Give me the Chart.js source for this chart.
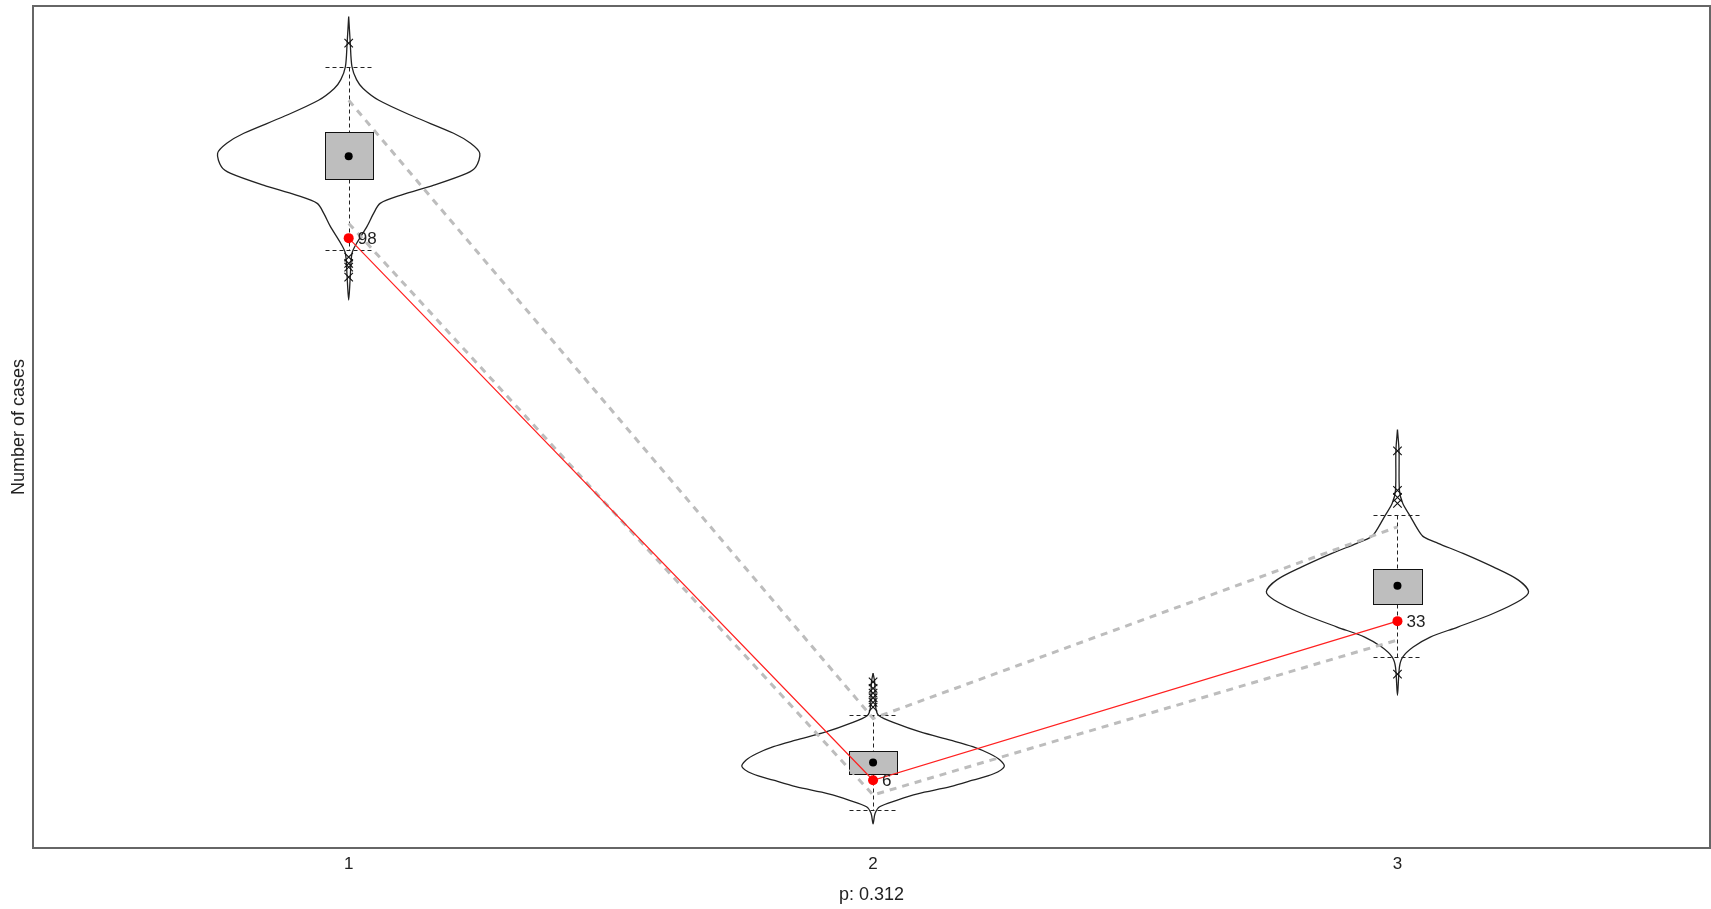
<!DOCTYPE html>
<html>
<head>
<meta charset="utf-8">
<script src="https://cdn.jsdelivr.net/npm/chart.js@4.4.1/dist/chart.umd.min.js"></script>
<style>
    html, body { margin: 0; padding: 0; background: #fff; overflow: hidden; }
    canvas { display: block; }
</style>
</head>
<body>
<canvas id="violinChart" width="1711" height="909"></canvas>
<script>
// groups on the x axis
var groups = [1, 2, 3];

// observed value per group (red line + labels)
var observed = [98, 6, 33];

// gray dashed band (upper / lower)
var bandUpper = [121.4, 16.5, 49.0];
var bandLower = [100.5, 3.5, 29.8];

// box plot stats
var whiskerLow = [96.0, 1.0, 26.9];
var quart1 = [108.0, 7.0, 35.9];
var medians = [111.9, 9.0, 39.0];
var quart3 = [116.0, 11.0, 41.9];
var whiskerHigh = [127.1, 17.0, 51.0];

// outliers
var outlierGroup = [1, 1, 1, 1, 1, 2, 2, 2, 2, 2, 2, 3, 3, 3, 3, 3];
var outlierValue = [131.1, 94.8, 93.7, 93.1, 91.4, 18.4, 19.2, 20.0, 20.8, 21.6, 22.7, 61.9, 55.2, 54.0, 53.0, 24.0];

// violin density profiles: levels (top to bottom) and relative half width
var violin1Levels = [135.6, 131.1, 127.1, 124.9, 123.4, 121.4, 118.6, 115.8, 114.1, 112.4, 110.1, 109.0, 107.0, 105.3, 103.9, 102.2, 100.0, 97.1, 95.4, 91.4, 87.5];
var violin1Width = [0, 0.012, 0.025, 0.06, 0.11, 0.23, 0.5, 0.8, 0.93, 1.0, 0.97, 0.9, 0.65, 0.4, 0.24, 0.19, 0.14, 0.06, 0.025, 0.012, 0];
var violin2Levels = [24.2, 22.7, 18.4, 17.0, 15.6, 14.2, 12.8, 11.7, 10.5, 9.4, 8.3, 7.1, 6.0, 4.9, 3.7, 2.6, 1.5, 0.35, -1.4];
var violin2Width = [0, 0.012, 0.02, 0.043, 0.18, 0.36, 0.59, 0.76, 0.89, 0.97, 1.0, 0.92, 0.76, 0.59, 0.34, 0.18, 0.05, 0.015, 0];
var violin3Levels = [65.5, 61.9, 55.2, 53.0, 50.7, 48.4, 47.3, 46.2, 44.5, 42.2, 40.0, 38.0, 36.6, 34.3, 32.0, 30.3, 28.6, 26.9, 25.2, 20.4];
var violin3Width = [0, 0.012, 0.015, 0.04, 0.1, 0.16, 0.2, 0.31, 0.5, 0.73, 0.92, 1.0, 0.94, 0.73, 0.46, 0.25, 0.12, 0.04, 0.015, 0];

var xTitle = 'p: 0.312';
var yTitle = 'Number of cases';

// sizes in x units
var VIOLIN_HALF = 0.25;
var BOX_HALF = 0.046;

Chart.defaults.font.family = "'Liberation Sans', Arial, sans-serif";
Chart.defaults.color = '#222';

function violinPoints(center, levels, widths) {
    var pts = [];
    for (var i = 0; i < levels.length; i++) {
        pts.push({x: center + widths[i] * VIOLIN_HALF, y: levels[i]});
    }
    for (var j = levels.length - 2; j >= 0; j--) {
        pts.push({x: center - widths[j] * VIOLIN_HALF, y: levels[j]});
    }
    return pts;
}

function zip(xs, ys) {
    return xs.map((x, i) => ({x: x, y: ys[i]}));
}

var violinSet = [
    [violin1Levels, violin1Width],
    [violin2Levels, violin2Width],
    [violin3Levels, violin3Width]
];

var datasets = [];

violinSet.forEach((v, i) => {
    datasets.push({
        data: violinPoints(groups[i], v[0], v[1]),
        showLine: true,
        tension: 0.3,
        borderColor: '#222',
        borderWidth: 1.3,
        pointRadius: 0,
        fill: false,
        order: 6
    });
});

[bandUpper, bandLower].forEach(band => {
    datasets.push({
        data: zip(groups, band),
        showLine: true,
        borderColor: '#bdbdbd',
        borderWidth: 3,
        borderDash: [7, 6],
        pointRadius: 0,
        order: 5
    });
});

datasets.push({
    data: zip(groups, observed),
    showLine: true,
    borderColor: '#ff2020',
    borderWidth: 1.2,
    pointRadius: 5,
    pointBackgroundColor: '#ff0000',
    pointBorderWidth: 0,
    order: 2
});

datasets.push({
    data: zip(outlierGroup, outlierValue),
    pointStyle: 'crossRot',
    pointRadius: 6,
    borderColor: '#111',
    pointBorderWidth: 1.1,
    order: 3
});

datasets.push({
    data: zip(groups, medians),
    pointRadius: 4,
    pointBackgroundColor: '#000',
    pointBorderWidth: 0,
    order: 1
});

var boxPlugin = {
    id: 'boxes',
    beforeDatasetsDraw: chart => {
        let ctx = chart.ctx;
        let x = chart.scales.x, y = chart.scales.y;
        ctx.save();
        groups.forEach((g, i) => {
            let cx = Math.round(x.getPixelForValue(g)) + 0.5;
            let left = Math.round(x.getPixelForValue(g - BOX_HALF)) + 0.5;
            let right = Math.round(x.getPixelForValue(g + BOX_HALF)) + 0.5;
            let yHi = Math.round(y.getPixelForValue(whiskerHigh[i])) + 0.5;
            let yLo = Math.round(y.getPixelForValue(whiskerLow[i])) + 0.5;
            let yQ3 = Math.round(y.getPixelForValue(quart3[i])) + 0.5;
            let yQ1 = Math.round(y.getPixelForValue(quart1[i])) + 0.5;

            // whiskers
            ctx.setLineDash([4, 3]);
            ctx.strokeStyle = '#222';
            ctx.lineWidth = 1;
            ctx.beginPath();
            ctx.moveTo(cx, yHi); ctx.lineTo(cx, yQ3);
            ctx.moveTo(cx, yQ1); ctx.lineTo(cx, yLo);
            ctx.moveTo(left, yHi); ctx.lineTo(right, yHi);
            ctx.moveTo(left, yLo); ctx.lineTo(right, yLo);
            ctx.stroke();

            // box
            ctx.setLineDash([]);
            ctx.fillStyle = '#bebebe';
            ctx.fillRect(left, yQ3, right - left, yQ1 - yQ3);
            ctx.strokeStyle = '#111';
            ctx.strokeRect(left, yQ3, right - left, yQ1 - yQ3);
        });
        ctx.restore();
    },
    afterDatasetsDraw: chart => {
        let ctx = chart.ctx;
        let x = chart.scales.x, y = chart.scales.y;
        ctx.save();
        ctx.font = "17px 'Liberation Sans', Arial, sans-serif";
        ctx.fillStyle = '#222';
        ctx.textAlign = 'left';
        ctx.textBaseline = 'middle';
        groups.forEach((g, i) => {
            ctx.fillText(String(observed[i]), x.getPixelForValue(g) + 9, y.getPixelForValue(observed[i]) + 1);
        });
        ctx.restore();
    },
    afterDraw: chart => {
        let a = chart.chartArea;
        let ctx = chart.ctx;
        ctx.save();
        ctx.strokeStyle = '#666';
        ctx.lineWidth = 2;
        ctx.strokeRect(a.left, a.top, a.right - a.left, a.bottom - a.top);
        ctx.restore();
    }
};

new Chart(document.getElementById('violinChart'), {
    type: 'scatter',
    data: {datasets: datasets},
    plugins: [boxPlugin],
    options: {
        responsive: false,
        animation: false,
        events: [],
        layout: {autoPadding: false, padding: {top: 6, right: 1, left: 0, bottom: 0}},
        plugins: {
            legend: {display: false},
            tooltip: {enabled: false}
        },
        scales: {
            x: {
                type: 'linear',
                min: 0.398,
                max: 3.596,
                grid: {display: false, drawTicks: false},
                border: {display: false},
                afterBuildTicks: scale => {
                    scale.ticks = groups.map(g => ({value: g}));
                },
                afterFit: scale => {
                    scale.height = 61;
                    scale.paddingLeft = 0;
                    scale.paddingRight = 0;
                },
                ticks: {
                    font: {size: 17},
                    color: '#222',
                    padding: 6,
                    maxRotation: 0,
                    autoSkip: false,
                    callback: v => String(v)
                },
                title: {
                    display: true,
                    text: xTitle,
                    font: {size: 18},
                    color: '#222',
                    padding: {top: 0, bottom: 3}
                }
            },
            y: {
                type: 'linear',
                min: -5.5,
                max: 137.4,
                grid: {display: false, drawTicks: false},
                border: {display: false},
                ticks: {display: false},
                afterFit: scale => {
                    scale.width = 33;
                    scale.paddingTop = 0;
                    scale.paddingBottom = 0;
                },
                title: {
                    display: true,
                    text: yTitle,
                    font: {size: 18},
                    color: '#222',
                    padding: {top: 8, bottom: 0}
                }
            }
        }
    }
});
</script>
</body>
</html>
